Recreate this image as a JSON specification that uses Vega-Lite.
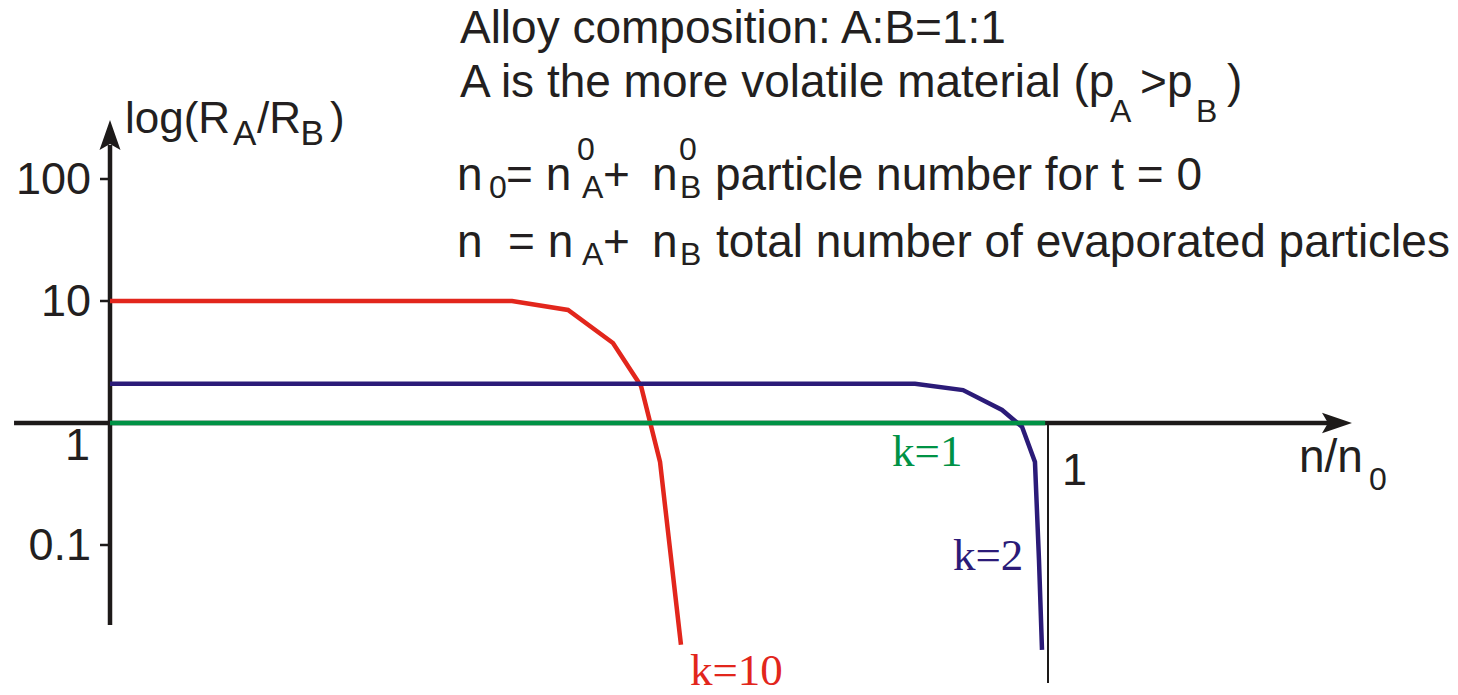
{
  "$schema": "https://vega.github.io/schema/vega-lite/v6.json",
  "width": 1458,
  "height": 695,
  "padding": 0,
  "autosize": {"type": "none"},
  "background": "white",
  "config": {"view": {"stroke": null}},
  "datasets": {
    "curves": [
      {"series": "k=10", "i": 0, "x": 0, "y": 10},
      {"series": "k=10", "i": 1, "x": 0.4286, "y": 10},
      {"series": "k=10", "i": 2, "x": 0.4883, "y": 8.44},
      {"series": "k=10", "i": 3, "x": 0.5362, "y": 4.53},
      {"series": "k=10", "i": 4, "x": 0.5661, "y": 2.01},
      {"series": "k=10", "i": 5, "x": 0.5864, "y": 0.479},
      {"series": "k=10", "i": 6, "x": 0.6087, "y": 0.0152},
      {"series": "k=2", "i": 0, "x": 0, "y": 2.1},
      {"series": "k=2", "i": 1, "x": 0.8582, "y": 2.1},
      {"series": "k=2", "i": 2, "x": 0.9094, "y": 1.86},
      {"series": "k=2", "i": 3, "x": 0.951, "y": 1.28},
      {"series": "k=2", "i": 4, "x": 0.9723, "y": 0.93},
      {"series": "k=2", "i": 5, "x": 0.9861, "y": 0.48},
      {"series": "k=2", "i": 6, "x": 0.9904, "y": 0.075},
      {"series": "k=2", "i": 7, "x": 0.9936, "y": 0.0138},
      {"series": "k=1", "i": 0, "x": 0, "y": 1},
      {"series": "k=1", "i": 1, "x": 0.997, "y": 1}
    ],
    "curveLabels": [
      {"series": "k=10", "x": 0.6183, "y": 0.00712},
      {"series": "k=1", "x": 0.8337, "y": 0.4442},
      {"series": "k=2", "x": 0.8987, "y": 0.06237}
    ],
    "axisLines": [
      {"x": -0.1023, "y": 1, "x2": 1.3006, "y2": 1},
      {"x": 0, "y": 0.02209, "x2": 0, "y2": 190}
    ],
    "unitLine": [
      {"x": 1, "y": 1, "x2": 1, "y2": 0.007394}
    ],
    "arrows": [
      {"x": 1.3081, "y": 1, "dir": "right"},
      {"x": 0, "y": 229.45, "dir": "up"}
    ],
    "yTicks": [
      {"x": -0.01066, "x2": 0, "y": 100, "label": "100"},
      {"x": -0.01066, "x2": 0, "y": 10, "label": "10"},
      {"x": -0.01066, "x2": 0, "y": 0.1, "label": "0.1"}
    ],
    "notes": [
      {"x": 0.3731, "y": 1302.2, "text": "Alloy composition: A:B=1:1"},
      {"x": 0.3731, "y": 469.9, "text": "A is the more volatile material (p"},
      {"x": 1.0981, "y": 469.9, "text": ">"},
      {"x": 1.1269, "y": 469.9, "text": "p"},
      {"x": 1.1908, "y": 469.9, "text": ")"},
      {"x": 0.3699, "y": 81.24, "text": "n"},
      {"x": 0.4222, "y": 81.24, "text": "= n"},
      {"x": 0.5256, "y": 81.24, "text": "+"},
      {"x": 0.5778, "y": 81.24, "text": "n"},
      {"x": 0.645, "y": 81.24, "text": "particle number for t = 0"},
      {"x": 0.3699, "y": 22.94, "text": "n"},
      {"x": 0.4243, "y": 22.94, "text": "= n"},
      {"x": 0.5256, "y": 22.94, "text": "+"},
      {"x": 0.5778, "y": 22.94, "text": "n"},
      {"x": 0.6461, "y": 22.94, "text": "total number of evaporated particles"},
      {"x": 1.2676, "y": 0.3968, "text": "n/n"}
    ],
    "noteIndices": [
      {"x": 1.0661, "y": 293.2, "text": "A"},
      {"x": 1.1578, "y": 293.2, "text": "B"},
      {"x": 0.4041, "y": 69.87, "text": "0"},
      {"x": 0.4979, "y": 143.1, "text": "0"},
      {"x": 0.5032, "y": 69.87, "text": "A"},
      {"x": 0.6066, "y": 143.1, "text": "0"},
      {"x": 0.6077, "y": 69.87, "text": "B"},
      {"x": 0.5032, "y": 19.73, "text": "A"},
      {"x": 0.6077, "y": 19.73, "text": "B"},
      {"x": 1.3422, "y": 0.2825, "text": "0"}
    ],
    "yTitle": [
      {"x": 0.01599, "y": 238.3, "text": "log(R"},
      {"x": 0.1567, "y": 238.3, "text": "/R"},
      {"x": 0.2345, "y": 238.3, "text": ")"}
    ],
    "yTitleIndices": [
      {"x": 0.1311, "y": 190.0, "text": "A"},
      {"x": 0.2031, "y": 190.0, "text": "B"}
    ]
  },
  "encoding": {
    "x": {
      "field": "x",
      "type": "quantitative",
      "scale": {"domain": [-0.117271, 1.4371], "nice": false, "zero": false},
      "axis": null
    },
    "y": {
      "field": "y",
      "type": "quantitative",
      "scale": {"type": "log", "domain": [0.0058948, 2932.2], "nice": false},
      "axis": null
    }
  },
  "layer": [
    {
      "data": {"name": "axisLines"},
      "mark": {"type": "rule", "color": "#1d1a19", "strokeWidth": 4.5},
      "encoding": {"x2": {"field": "x2"}, "y2": {"field": "y2"}}
    },
    {
      "data": {"name": "unitLine"},
      "mark": {"type": "rule", "color": "#1d1a19", "strokeWidth": 2},
      "encoding": {"x2": {"field": "x2"}, "y2": {"field": "y2"}}
    },
    {
      "data": {"name": "yTicks"},
      "mark": {"type": "rule", "color": "#1d1a19", "strokeWidth": 2.5},
      "encoding": {"x2": {"field": "x2"}}
    },
    {
      "data": {"name": "arrows"},
      "mark": {"type": "point", "filled": true, "size": 900, "opacity": 1, "color": "#1d1a19", "strokeWidth": 0},
      "encoding": {
        "shape": {
          "field": "dir",
          "type": "nominal",
          "scale": {
            "domain": ["right", "up"],
            "range": ["M1,0L-1,-0.68L-0.6,0L-1,0.68Z", "M0,-1L-0.7,1L0,0.6L0.7,1Z"]
          },
          "legend": null
        }
      }
    },
    {
      "data": {"name": "curves"},
      "mark": {"type": "line", "strokeWidth": 4.5},
      "encoding": {
        "color": {
          "field": "series",
          "type": "nominal",
          "scale": {"domain": ["k=10", "k=2", "k=1"], "range": ["#e2261c", "#2b1b78", "#009245"]},
          "legend": null
        },
        "order": {"field": "i", "type": "quantitative"}
      }
    },
    {
      "data": {"name": "curveLabels"},
      "mark": {"type": "text", "font": "Liberation Serif", "fontSize": 45, "align": "left", "baseline": "alphabetic"},
      "encoding": {
        "text": {"field": "series"},
        "color": {"field": "series", "type": "nominal", "legend": null}
      }
    },
    {
      "data": {"name": "yTicks"},
      "mark": {"type": "text", "font": "Liberation Sans", "fontSize": 45, "align": "right", "baseline": "alphabetic", "dx": -9, "dy": 15, "color": "#231f20"},
      "encoding": {"text": {"field": "label"}}
    },
    {
      "data": {"values": [{"x": 0, "y": 1, "label": "1"}]},
      "mark": {"type": "text", "font": "Liberation Sans", "fontSize": 45, "align": "right", "baseline": "alphabetic", "dx": -20, "dy": 37, "color": "#231f20"},
      "encoding": {"text": {"field": "label"}}
    },
    {
      "data": {"values": [{"x": 1, "y": 1, "label": "1"}]},
      "mark": {"type": "text", "font": "Liberation Sans", "fontSize": 45, "align": "left", "baseline": "alphabetic", "dx": 14, "dy": 62, "color": "#231f20"},
      "encoding": {"text": {"field": "label"}}
    },
    {
      "data": {"name": "notes"},
      "mark": {"type": "text", "font": "Liberation Sans", "fontSize": 46, "align": "left", "baseline": "alphabetic", "color": "#231f20"},
      "encoding": {"text": {"field": "text"}}
    },
    {
      "data": {"name": "noteIndices"},
      "mark": {"type": "text", "font": "Liberation Sans", "fontSize": 32, "align": "left", "baseline": "alphabetic", "color": "#231f20"},
      "encoding": {"text": {"field": "text"}}
    },
    {
      "data": {"name": "yTitle"},
      "mark": {"type": "text", "font": "Liberation Sans", "fontSize": 44, "align": "left", "baseline": "alphabetic", "color": "#231f20"},
      "encoding": {"text": {"field": "text"}}
    },
    {
      "data": {"name": "yTitleIndices"},
      "mark": {"type": "text", "font": "Liberation Sans", "fontSize": 35, "align": "left", "baseline": "alphabetic", "color": "#231f20"},
      "encoding": {"text": {"field": "text"}}
    }
  ]
}
